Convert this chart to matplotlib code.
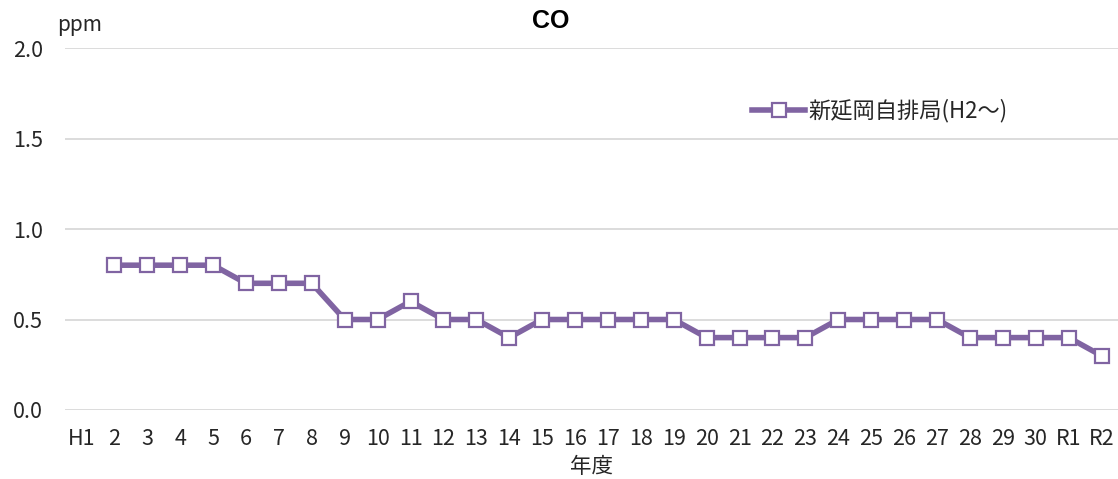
import numpy as np
import matplotlib
matplotlib.use("Agg")
import matplotlib.pyplot as plt

plt.rcParams['font.family'] = ['Noto Sans CJK JP', 'DejaVu Sans']

# =====================================================
# Data
# =====================================================

years = ["H1"] + [str(i) for i in range(2, 31)] + ["R1", "R2"]

co_values = [np.nan,
             0.8, 0.8, 0.8, 0.8, 0.7, 0.7, 0.7, 0.5, 0.5, 0.6,
             0.5, 0.5, 0.4, 0.5, 0.5, 0.5, 0.5, 0.5, 0.4, 0.4,
             0.4, 0.4, 0.5, 0.5, 0.5, 0.5, 0.4, 0.4, 0.4, 0.4,
             0.3]

series_label = "新延岡自排局(H2〜)"

# =====================================================
# Plot
# =====================================================

purple = "#8064A2"
text_color = "#262626"

fig = plt.figure(figsize=(11.18, 4.79), dpi=100)
ax = fig.add_axes([65 / 1118, 1 - 410 / 479, 1 - 65 / 1118, (410 - 48) / 479])

x = np.arange(len(years))
ax.plot(x, co_values, color=purple, linewidth=4.0, marker="s",
        markersize=10, markerfacecolor="white", markeredgecolor=purple,
        markeredgewidth=1.6, label=series_label)

ax.set_xlim(-0.5, len(years) - 0.5)
ax.set_ylim(0, 2.0)
ax.set_yticks([0, 0.5, 1.0, 1.5, 2.0])
ax.set_yticklabels(["0.0", "0.5", "1.0", "1.5", "2.0"])
ax.set_xticks(x)
ax.set_xticklabels(years)

ax.grid(axis="y", color="#d9d9d9", linewidth=1.3)
ax.set_axisbelow(True)
for side in ["top", "right", "left", "bottom"]:
    ax.spines[side].set_visible(False)
ax.tick_params(axis="both", length=0, labelsize=15.5, colors=text_color)
ax.tick_params(axis="y", pad=16)
ax.tick_params(axis="x", pad=13)

ax.set_xlabel("年度", fontsize=15.5, color=text_color, labelpad=4)
fig.text(80 / 1118, 1 - 25 / 479, "ppm", fontsize=15, color=text_color,
         ha="center", va="center")
fig.text(551 / 1118, 1 - 21 / 479, "CO", fontsize=18, fontweight="bold",
         color="black", ha="center", va="center", family="Liberation Sans")

ax.legend(loc="center left", bbox_to_anchor=(667 / 1053, 1 - (111 - 48) / 362),
          frameon=False, fontsize=16, handlelength=2.4, handletextpad=0.15,
          labelcolor=text_color)

plt.savefig("out.png", dpi=100)
